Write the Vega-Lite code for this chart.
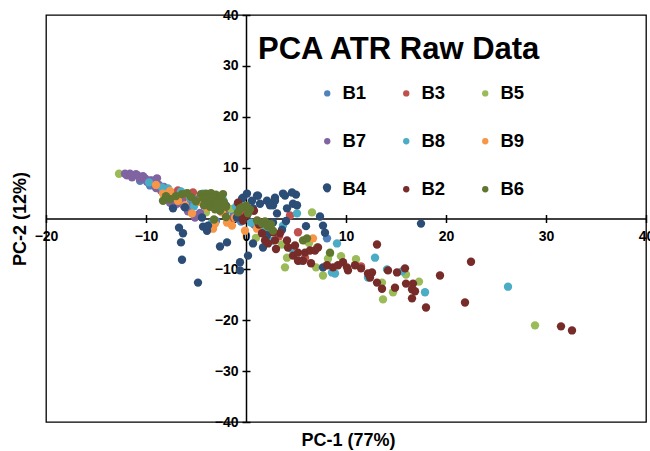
{
  "$schema": "https://vega.github.io/schema/vega-lite/v6.json",
  "autosize": "none",
  "width": 600,
  "height": 407,
  "padding": {"left": 46, "top": 15, "right": 4, "bottom": 29},
  "background": "white",
  "config": {
    "view": {"stroke": "black", "strokeWidth": 1.3},
    "font": "Liberation Sans",
    "axis": {"labelFont": "Liberation Sans", "titleFont": "Liberation Sans", "labelFontWeight": "bold", "titleFontWeight": "bold", "labelColor": "black", "titleColor": "black", "domainColor": "black", "tickColor": "black", "grid": false}
  },
  "title": {"text": "PCA ATR Raw Data", "anchor": "start", "frame": "group", "dx": 212, "dy": 82, "fontSize": 31, "font": "Liberation Sans", "fontWeight": "bold", "color": "black", "baseline": "alphabetic", "offset": 0},
  "data": {"values": [
    {"g":"B1","x":-10.6,"y":7.4},{"g":"B1","x":-9.6,"y":6.5},{"g":"B1","x":-8.8,"y":6.5},{"g":"B1","x":-9.4,"y":7.5},{"g":"B1","x":-8.0,"y":5.6},{"g":"B1","x":-7.4,"y":5.0},{"g":"B1","x":-6.8,"y":4.2},{"g":"B1","x":-6.0,"y":4.6},{"g":"B1","x":-5.5,"y":3.2},{"g":"B1","x":-4.8,"y":3.8},{"g":"B1","x":-4.2,"y":2.6},{"g":"B1","x":-3.6,"y":3.4},{"g":"B1","x":-2.7,"y":2.1},{"g":"B1","x":-2.0,"y":1.4},{"g":"B1","x":-1.2,"y":0.8},{"g":"B1","x":-0.5,"y":-0.6},{"g":"B1","x":0.8,"y":-1.2},{"g":"B1","x":8.1,"y":-3.9},{"g":"B1","x":-3.0,"y":-0.5},{"g":"B1","x":-7.1,"y":3.5},
    {"g":"B3","x":-6.8,"y":5.5},{"g":"B3","x":-5.3,"y":5.1},{"g":"B3","x":-5.8,"y":4.9},{"g":"B3","x":-6.3,"y":3.9},{"g":"B3","x":-4.5,"y":4.5},{"g":"B3","x":-3.7,"y":3.9},{"g":"B3","x":-7.5,"y":4.2},{"g":"B3","x":-2.8,"y":2.9},{"g":"B3","x":-2.2,"y":1.8},{"g":"B3","x":-1.4,"y":-0.2},{"g":"B3","x":4.4,"y":0.6},{"g":"B3","x":5.2,"y":-2.7},{"g":"B3","x":2.0,"y":-1.8},{"g":"B3","x":3.3,"y":-3.5},{"g":"B3","x":5.9,"y":-7.7},{"g":"B3","x":11.5,"y":-9.4},{"g":"B3","x":-0.4,"y":1.5},{"g":"B3","x":1.2,"y":-0.5},
    {"g":"B5","x":-12.7,"y":8.8},{"g":"B5","x":-4.0,"y":1.2},{"g":"B5","x":6.6,"y":1.2},{"g":"B5","x":4.1,"y":-7.7},{"g":"B5","x":3.9,"y":-9.6},{"g":"B5","x":5.9,"y":-4.3},{"g":"B5","x":7.1,"y":-5.7},{"g":"B5","x":7.7,"y":-11.2},{"g":"B5","x":8.4,"y":-6.9},{"g":"B5","x":8.2,"y":-7.9},{"g":"B5","x":13.6,"y":-12.6},{"g":"B5","x":14.7,"y":-14.5},{"g":"B5","x":17.3,"y":-12.4},{"g":"B5","x":13.7,"y":-15.9},{"g":"B5","x":28.9,"y":-21.0},{"g":"B5","x":2.5,"y":-2.0},{"g":"B5","x":3.6,"y":-5.1},{"g":"B5","x":6.3,"y":-4.8},{"g":"B5","x":9.5,"y":-7.4},{"g":"B5","x":-1.5,"y":1.9},{"g":"B5","x":1.0,"y":-3.8},{"g":"B5","x":11.0,"y":-8.0},{"g":"B5","x":16.0,"y":-11.0},{"g":"B5","x":7.0,"y":-9.6},{"g":"B5","x":-2.8,"y":3.0},
    {"g":"B7","x":-12.1,"y":8.8},{"g":"B7","x":-11.6,"y":8.8},{"g":"B7","x":-11.3,"y":8.4},{"g":"B7","x":-10.8,"y":8.4},{"g":"B7","x":-10.4,"y":8.1},{"g":"B7","x":-10.1,"y":7.9},{"g":"B7","x":-9.6,"y":7.5},{"g":"B7","x":-8.9,"y":7.9},{"g":"B7","x":-11.9,"y":8.5},{"g":"B7","x":-11.0,"y":8.7},{"g":"B7","x":-10.6,"y":7.8},{"g":"B7","x":-9.9,"y":7.2},{"g":"B7","x":-9.3,"y":7.0},{"g":"B7","x":-8.7,"y":6.6},{"g":"B7","x":-9.0,"y":6.0},{"g":"B7","x":-8.2,"y":6.2},{"g":"B7","x":-7.9,"y":5.2},{"g":"B7","x":-7.5,"y":4.6},{"g":"B7","x":-7.9,"y":3.9},{"g":"B7","x":-7.6,"y":3.1},{"g":"B7","x":-6.9,"y":2.9},{"g":"B7","x":-6.5,"y":3.6},{"g":"B7","x":-5.6,"y":2.0},{"g":"B7","x":-5.1,"y":0.2},{"g":"B7","x":-5.8,"y":1.4},{"g":"B7","x":-6.2,"y":2.4},{"g":"B7","x":-4.6,"y":1.1},{"g":"B7","x":-4.9,"y":0.6},{"g":"B7","x":-7.2,"y":4.2},{"g":"B7","x":-8.5,"y":5.5},{"g":"B7","x":-10.3,"y":8.3},{"g":"B7","x":-11.4,"y":8.1},
    {"g":"B8","x":-7.8,"y":5.9},{"g":"B8","x":-8.4,"y":6.1},{"g":"B8","x":-5.6,"y":4.1},{"g":"B8","x":-3.4,"y":-0.8},{"g":"B8","x":3.7,"y":-1.4},{"g":"B8","x":5.1,"y":1.0},{"g":"B8","x":-9.7,"y":7.1},{"g":"B8","x":-6.5,"y":5.3},{"g":"B8","x":-4.3,"y":4.9},{"g":"B8","x":-2.3,"y":3.7},{"g":"B8","x":-1.0,"y":2.3},{"g":"B8","x":0.5,"y":-0.8},{"g":"B8","x":1.8,"y":-2.2},{"g":"B8","x":5.4,"y":-8.3},{"g":"B8","x":8.6,"y":-10.6},{"g":"B8","x":8.9,"y":-10.8},{"g":"B8","x":12.9,"y":-7.7},{"g":"B8","x":14.1,"y":-10.0},{"g":"B8","x":15.6,"y":-10.4},{"g":"B8","x":12.2,"y":-11.6},{"g":"B8","x":17.9,"y":-14.5},{"g":"B8","x":26.2,"y":-13.4},{"g":"B8","x":9.1,"y":-4.9},{"g":"B8","x":-5.2,"y":2.4},{"g":"B8","x":2.6,"y":-4.4},{"g":"B8","x":4.5,"y":-5.9},
    {"g":"B9","x":-8.3,"y":4.9},{"g":"B9","x":-6.9,"y":3.9},{"g":"B9","x":-5.4,"y":1.0},{"g":"B9","x":-3.3,"y":-2.0},{"g":"B9","x":-1.9,"y":-0.8},{"g":"B9","x":-1.1,"y":0.2},{"g":"B9","x":-6.8,"y":3.5},{"g":"B9","x":-6.1,"y":2.6},{"g":"B9","x":-3.9,"y":2.2},{"g":"B9","x":-3.1,"y":-1.0},{"g":"B9","x":-1.4,"y":-1.4},{"g":"B9","x":-0.1,"y":-2.4},{"g":"B9","x":1.1,"y":-2.0},{"g":"B9","x":6.7,"y":-3.9},{"g":"B9","x":-7.6,"y":5.4},{"g":"B9","x":-4.7,"y":3.3},{"g":"B9","x":-2.4,"y":1.2},{"g":"B9","x":-9.0,"y":6.6},
    {"g":"B4","x":17.5,"y":-1.0},{"g":"B4","x":-6.7,"y":-1.8},{"g":"B4","x":-6.3,"y":-2.9},{"g":"B4","x":-6.5,"y":-4.7},{"g":"B4","x":-6.4,"y":-8.1},{"g":"B4","x":-4.8,"y":-12.6},{"g":"B4","x":-4.3,"y":-1.6},{"g":"B4","x":-2.6,"y":-5.5},{"g":"B4","x":-1.9,"y":-4.7},{"g":"B4","x":-0.6,"y":-8.6},{"g":"B4","x":-0.6,"y":-10.2},{"g":"B4","x":0.2,"y":-7.3},{"g":"B4","x":8.1,"y":6.1},{"g":"B4","x":1.2,"y":4.5},{"g":"B4","x":2.9,"y":3.5},{"g":"B4","x":3.9,"y":4.5},{"g":"B4","x":5.0,"y":4.7},{"g":"B4","x":7.4,"y":0.4},{"g":"B4","x":7.7,"y":-1.4},{"g":"B4","x":7.9,"y":-2.8},{"g":"B4","x":-0.3,"y":4.1},{"g":"B4","x":1.1,"y":4.5},{"g":"B4","x":1.4,"y":2.9},{"g":"B4","x":2.1,"y":3.5},{"g":"B4","x":2.7,"y":2.6},{"g":"B4","x":2.9,"y":4.1},{"g":"B4","x":3.7,"y":4.9},{"g":"B4","x":4.6,"y":5.1},{"g":"B4","x":4.1,"y":2.0},{"g":"B4","x":2.7,"y":-0.8},{"g":"B4","x":3.1,"y":1.0},{"g":"B4","x":2.1,"y":-3.3},{"g":"B4","x":1.7,"y":-5.7},{"g":"B4","x":0.7,"y":-4.9},{"g":"B4","x":-3.9,"y":-2.4},{"g":"B4","x":-6.1,"y":2.2},{"g":"B4","x":-7.3,"y":2.0},{"g":"B4","x":-0.4,"y":3.9},{"g":"B4","x":0.1,"y":4.9},{"g":"B4","x":0.6,"y":3.5},{"g":"B4","x":0.7,"y":2.0},{"g":"B4","x":-3.8,"y":-1.4},{"g":"B4","x":-4.4,"y":0.2},{"g":"B4","x":-0.9,"y":0.2},{"g":"B4","x":2.4,"y":2.6},{"g":"B4","x":4.7,"y":2.9},{"g":"B4","x":5.1,"y":2.6},{"g":"B4","x":4.0,"y":-0.5},{"g":"B4","x":6.0,"y":-1.5},{"g":"B4","x":1.5,"y":-1.0},{"g":"B4","x":-2.0,"y":2.5},{"g":"B4","x":3.6,"y":-2.2},{"g":"B4","x":7.7,"y":-9.6},
    {"g":"B2","x":1.9,"y":-4.3},{"g":"B2","x":2.2,"y":-4.9},{"g":"B2","x":2.9,"y":-4.3},{"g":"B2","x":3.4,"y":-2.9},{"g":"B2","x":4.1,"y":-4.3},{"g":"B2","x":4.2,"y":-5.7},{"g":"B2","x":4.9,"y":-5.3},{"g":"B2","x":4.7,"y":-7.3},{"g":"B2","x":5.2,"y":-6.7},{"g":"B2","x":5.2,"y":-8.3},{"g":"B2","x":5.7,"y":-8.3},{"g":"B2","x":5.9,"y":-6.7},{"g":"B2","x":6.4,"y":-6.3},{"g":"B2","x":6.9,"y":-6.3},{"g":"B2","x":7.2,"y":-5.7},{"g":"B2","x":8.1,"y":-9.2},{"g":"B2","x":8.7,"y":-9.6},{"g":"B2","x":9.2,"y":-9.2},{"g":"B2","x":9.7,"y":-8.6},{"g":"B2","x":10.1,"y":-9.6},{"g":"B2","x":10.2,"y":-10.2},{"g":"B2","x":10.9,"y":-9.2},
    {"g":"B2","x":13.1,"y":-5.1},{"g":"B2","x":12.2,"y":-10.8},{"g":"B2","x":12.6,"y":-10.6},{"g":"B2","x":12.4,"y":-11.6},{"g":"B2","x":14.2,"y":-10.2},{"g":"B2","x":15.1,"y":-10.6},{"g":"B2","x":15.9,"y":-9.8},{"g":"B2","x":13.1,"y":-12.6},{"g":"B2","x":13.6,"y":-13.8},{"g":"B2","x":14.9,"y":-13.6},{"g":"B2","x":16.0,"y":-12.8},{"g":"B2","x":16.7,"y":-12.8},{"g":"B2","x":16.6,"y":-13.9},{"g":"B2","x":16.9,"y":-14.3},{"g":"B2","x":16.6,"y":-15.7},{"g":"B2","x":19.4,"y":-11.2},{"g":"B2","x":21.9,"y":-16.5},{"g":"B2","x":18.0,"y":-17.5},
    {"g":"B2","x":31.5,"y":-21.2},{"g":"B2","x":32.6,"y":-22.0},{"g":"B2","x":22.5,"y":-8.5},{"g":"B2","x":-0.3,"y":-0.4},{"g":"B2","x":0.1,"y":0.6},{"g":"B2","x":-0.8,"y":3.1},{"g":"B2","x":-0.3,"y":0.0},{"g":"B2","x":1.6,"y":-2.9},{"g":"B2","x":2.7,"y":-2.7},{"g":"B2","x":1.3,"y":-1.2},{"g":"B2","x":3.0,"y":-6.0},{"g":"B2","x":6.5,"y":-8.8},{"g":"B2","x":11.5,"y":-9.8},{"g":"B2","x":0.8,"y":1.5},
    {"g":"B6","x":-4.5,"y":4.8},{"g":"B6","x":-4.0,"y":4.9},{"g":"B6","x":-3.5,"y":5.0},{"g":"B6","x":-3.0,"y":4.7},{"g":"B6","x":-2.5,"y":4.3},{"g":"B6","x":-4.3,"y":4.0},{"g":"B6","x":-3.8,"y":4.2},{"g":"B6","x":-3.2,"y":4.0},{"g":"B6","x":-2.7,"y":3.6},{"g":"B6","x":-2.2,"y":3.2},{"g":"B6","x":-4.0,"y":3.2},{"g":"B6","x":-3.5,"y":3.3},{"g":"B6","x":-3.0,"y":3.0},{"g":"B6","x":-2.5,"y":2.6},{"g":"B6","x":-2.0,"y":2.3},{"g":"B6","x":-3.6,"y":2.3},{"g":"B6","x":-3.1,"y":1.8},{"g":"B6","x":-2.6,"y":1.5},{"g":"B6","x":-4.2,"y":2.6},{"g":"B6","x":-2.3,"y":4.8},
    {"g":"B6","x":-8.3,"y":3.5},{"g":"B6","x":-7.6,"y":3.8},{"g":"B6","x":-7.0,"y":4.4},{"g":"B6","x":-6.4,"y":4.8},{"g":"B6","x":-5.9,"y":5.0},{"g":"B6","x":-8.0,"y":4.4},{"g":"B6","x":-5.5,"y":4.2},{"g":"B6","x":-5.0,"y":3.4},
    {"g":"B6","x":-0.8,"y":1.2},{"g":"B6","x":-0.4,"y":2.2},{"g":"B6","x":0.0,"y":2.5},{"g":"B6","x":0.4,"y":1.8},{"g":"B6","x":0.2,"y":1.0},{"g":"B6","x":-0.6,"y":2.0},
    {"g":"B6","x":1.1,"y":-0.4},{"g":"B6","x":1.6,"y":-1.0},{"g":"B6","x":2.2,"y":-1.6},{"g":"B6","x":2.7,"y":-2.4},{"g":"B6","x":1.9,"y":-0.6},{"g":"B6","x":2.5,"y":-1.1},
    {"g":"B6","x":5.7,"y":-4.3},{"g":"B6","x":8.4,"y":-6.7},{"g":"B6","x":6.1,"y":-3.9},{"g":"B6","x":-3.2,"y":-0.2},{"g":"B6","x":-2.0,"y":0.3}
  ]},
  "layer": [
    {
      "mark": {"type": "point", "opacity": 0},
      "encoding": {
        "x": {"field": "x", "type": "quantitative", "scale": {"domain": [-20, 40], "nice": false, "zero": false},
              "axis": {"orient": "top", "offset": -203.5, "values": [-20,-10,0,10,20,30,40], "labels": false, "domain": false, "tickSize": 4, "tickWidth": 1.5, "title": null}},
        "y": {"field": "y", "type": "quantitative", "scale": {"domain": [-40, 40], "nice": false, "zero": false},
              "axis": {"orient": "right", "offset": -400, "values": [-40,-30,-20,-10,0,10,20,30,40], "labels": false, "domain": false, "tickSize": 4, "tickWidth": 1.5, "title": null}}
      }
    },
    {
      "mark": {"type": "point", "filled": true, "opacity": 1, "size": 70, "shape": "circle"},
      "encoding": {
        "x": {"field": "x", "type": "quantitative", "scale": {"domain": [-20, 40], "nice": false, "zero": false},
              "axis": {"orient": "bottom", "offset": -203.5, "values": [-20,-10,0,10,20,30,40], "tickSize": 4, "tickWidth": 1.5, "domainWidth": 1.5, "labelFontSize": 14, "labelPadding": 7, "labelFlush": false,
                       "title": "PC-1 (77%)", "titleFontSize": 18, "titleX": 302, "titleY": 221.5, "titleAlign": "center", "titleBaseline": "middle", "titleAnchor": null}},
        "y": {"field": "y", "type": "quantitative", "scale": {"domain": [-40, 40], "nice": false, "zero": false},
              "axis": {"orient": "left", "offset": -200, "values": [-40,-30,-20,-10,0,10,20,30,40], "tickSize": 4, "tickWidth": 1.5, "domainWidth": 1.5, "labelFontSize": 14, "labelPadding": 4, "labelFlush": false,
                       "title": "PC-2 (12%)", "titleFontSize": 18, "titleAngle": -90, "titleX": -226, "titleY": 203.5, "titleAlign": "center", "titleBaseline": "middle"}},
        "color": {"field": "g", "type": "nominal",
                  "scale": {"domain": ["B1","B7","B4","B3","B8","B2","B5","B9","B6"],
                            "range": ["#4F81BD","#8064A2","#2C4D75","#C0504D","#4BACC6","#772C2A","#9BBB59","#F79646","#5F7530"]},
                  "legend": {"orient": "none", "legendX": 272, "legendY": 69, "columns": 3, "title": null, "padding": 0,
                             "columnPadding": 30, "rowPadding": 29, "labelFontSize": 18.5, "labelFont": "Liberation Sans", "labelFontWeight": "bold", "labelColor": "black",
                             "symbolType": "circle", "symbolSize": 40, "symbolStrokeWidth": 0, "labelOffset": 6}}
      }
    }
  ],
  "resolve": {"axis": {"x": "independent", "y": "independent"}}
}
